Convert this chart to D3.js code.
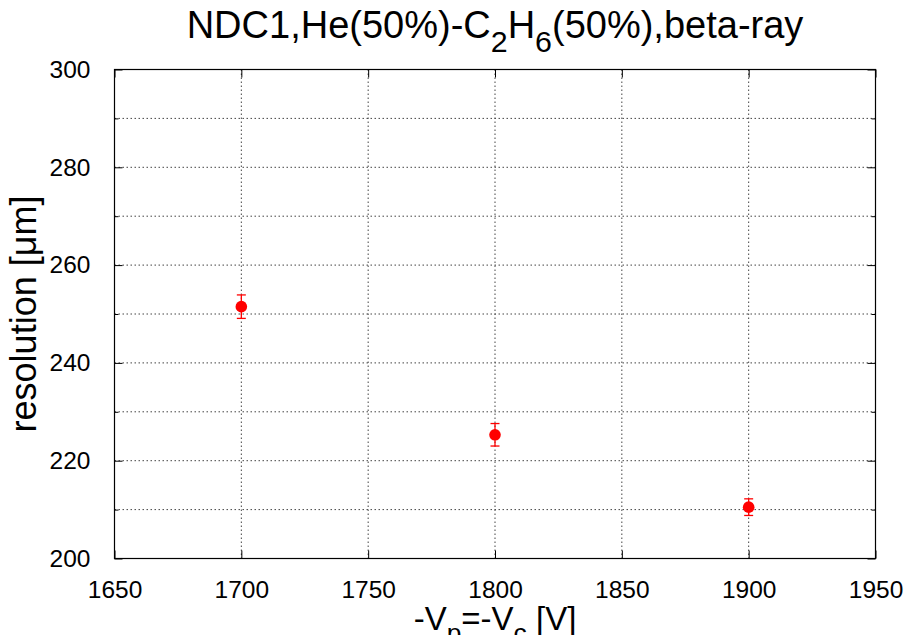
<!DOCTYPE html>
<html><head><meta charset="utf-8">
<script src="https://cdn.jsdelivr.net/npm/d3@7"></script>
<style>body{margin:0;background:#fff}svg{display:block}text{font-family:"Liberation Sans",Arial,Helvetica,sans-serif}</style>
</head><body>
<svg id="c" width="905" height="635"></svg>
<script>
const voltages = [1700, 1800, 1900];
const resolution = [251.5, 225.3, 210.5];
const resErr = [2.4, 2.3, 1.7];
const xTicks = [1650, 1700, 1750, 1800, 1850, 1900, 1950];
const yTicks = [200, 220, 240, 260, 280, 300];
const yGrid = [210, 220, 230, 240, 250, 260, 270, 280, 290];
const xGrid = [1700, 1750, 1800, 1850, 1900];

const svg = d3.select("#c");
const L = 114.5, R = 875.5, T = 69.5, B = 558.5;
const x = d3.scaleLinear().domain([1650, 1950]).range([L, R]);
const y = d3.scaleLinear().domain([200, 300]).range([B, T]);

// grid
const g = svg.append("g").attr("stroke", "#444").attr("stroke-width", 1).attr("stroke-dasharray", "1.5,2.5");
g.selectAll(".hg").data(yGrid).join("line").attr("x1", L).attr("x2", R).attr("y1", d => y(d)).attr("y2", d => y(d));
g.selectAll(".vg").data(xGrid).join("line").attr("y1", T).attr("y2", B).attr("x1", d => x(d)).attr("x2", d => x(d));

// axes with inward ticks
const ax = svg.append("g");
const xa = d3.axisBottom(x).tickValues(xTicks).tickSize(-8).tickPadding(22).tickFormat(d3.format("d"));
const xaTop = d3.axisTop(x).tickValues(xTicks).tickSize(-8).tickFormat("");
const ya = d3.axisLeft(y).tickValues(yTicks).tickSize(-8).tickPadding(24).tickFormat(d3.format("d"));
const yaR = d3.axisRight(y).tickValues(yTicks).tickSize(-8).tickFormat("");
const yMinL = d3.axisLeft(y).tickValues(yGrid.filter(v => v % 20 !== 0)).tickSize(-4).tickFormat("");
const yMinR = d3.axisRight(y).tickValues(yGrid.filter(v => v % 20 !== 0)).tickSize(-4).tickFormat("");
function style(sel){
  sel.select(".domain").remove();
  sel.selectAll("line").attr("stroke", "#000").attr("stroke-width", 1);
  sel.selectAll("text").attr("font-family", '"Liberation Sans",Arial,sans-serif').attr("font-size", 24.5).attr("fill", "#000");
}
ax.append("g").attr("transform", `translate(0,${B})`).call(xa).call(style);
ax.append("g").attr("transform", `translate(0,${T})`).call(xaTop).call(style);
ax.append("g").attr("transform", `translate(${L},0)`).call(ya).call(style);
ax.append("g").attr("transform", `translate(${R},0)`).call(yaR).call(style);
ax.append("g").attr("transform", `translate(${L},0)`).call(yMinL).call(style);
ax.append("g").attr("transform", `translate(${R},0)`).call(yMinR).call(style);

svg.append("rect").attr("x", L).attr("y", T).attr("width", R - L).attr("height", B - T)
  .attr("fill", "none").attr("stroke", "#000").attr("stroke-width", 1.2);

// data
const pts = voltages.map((v, i) => ({v, r: resolution[i], e: resErr[i]}));
const eb = svg.append("g").attr("stroke", "#f00").attr("stroke-width", 1.3);
eb.selectAll(".v").data(pts).join("line").attr("x1", d => x(d.v)).attr("x2", d => x(d.v)).attr("y1", d => y(d.r - d.e)).attr("y2", d => y(d.r + d.e));
eb.selectAll(".t").data(pts).join("line").attr("x1", d => x(d.v) - 4.5).attr("x2", d => x(d.v) + 4.5).attr("y1", d => y(d.r + d.e)).attr("y2", d => y(d.r + d.e));
eb.selectAll(".b").data(pts).join("line").attr("x1", d => x(d.v) - 4.5).attr("x2", d => x(d.v) + 4.5).attr("y1", d => y(d.r - d.e)).attr("y2", d => y(d.r - d.e));
svg.append("g").selectAll("circle").data(pts).join("circle")
  .attr("cx", d => x(d.v)).attr("cy", d => y(d.r)).attr("r", 5.8).attr("fill", "#f00");

// title
const cx = (L + R) / 2;
const tt = svg.append("text").attr("x", cx).attr("y", 38).attr("text-anchor", "middle").attr("font-size", 38);
tt.append("tspan").text("NDC1,He(50%)-C");
tt.append("tspan").attr("dy", 14).attr("font-size", 30.4).text("2");
tt.append("tspan").attr("dy", -14).text("H");
tt.append("tspan").attr("dy", 14).attr("font-size", 30.4).text("6");
tt.append("tspan").attr("dy", -14).text("(50%),beta-ray");

// x label
const xl = svg.append("text").attr("x", cx).attr("y", 630).attr("text-anchor", "middle").attr("font-size", 33);
xl.append("tspan").text("-V");
xl.append("tspan").attr("dy", 12).attr("font-size", 26.4).text("p");
xl.append("tspan").attr("dy", -12).text("=-V");
xl.append("tspan").attr("dy", 12).attr("font-size", 26.4).text("c");
xl.append("tspan").attr("dy", -12).text(" [V]");

// y label
svg.append("text").attr("transform", `translate(36,${(T + B) / 2}) rotate(-90)`)
  .attr("text-anchor", "middle").attr("font-size", 36).text("resolution [μm]");
</script>
</body></html>
